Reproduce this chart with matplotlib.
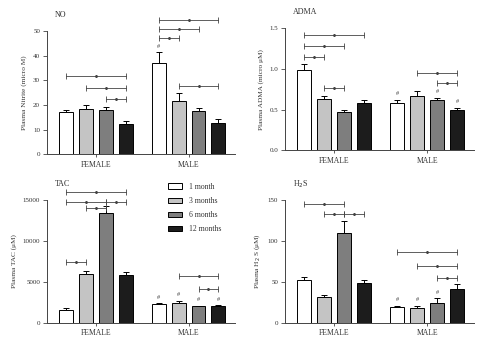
import matplotlib
matplotlib.use("Agg")
import matplotlib.pyplot as plt
import numpy as np

plt.rcParams['font.family'] = ['Liberation Serif', 'DejaVu Serif']

groups = ['FEMALE', 'MALE']
ages = ['1 month', '3 months', '6 months', '12 months']
colors = ['#ffffff', '#c4c4c4', '#7e7e7e', '#1c1c1c']

# values: female 4 bars then male 4 bars
no_mean = [17.0, 18.3, 17.8, 12.4, 37.0, 21.7, 17.4, 12.8]
no_err = [0.9, 1.8, 1.5, 1.3, 4.3, 3.0, 1.5, 1.6]
adma_mean = [0.99, 0.635, 0.465, 0.58, 0.575, 0.672, 0.612, 0.49]
adma_err = [0.07, 0.033, 0.028, 0.04, 0.04, 0.052, 0.033, 0.028]
tac_mean = [1600, 6000, 13370, 5810, 2270, 2440, 2030, 2030]
tac_err = [180, 330, 810, 370, 120, 240, 90, 110]
h2s_mean = [52.0, 31.0, 109.5, 48.3, 18.9, 18.0, 24.6, 41.4]
h2s_err = [3.5, 3.0, 14.5, 4.3, 1.6, 2.5, 5.2, 5.5]

# significance brackets: (bar from, bar to, height)
no_sig = [(0, 3, 31.8), (1, 3, 27.0), (2, 3, 22.4),
          (4, 7, 54.6), (4, 6, 51.0), (4, 5, 47.3), (5, 7, 27.9)]
adma_sig = [(0, 3, 1.42), (0, 2, 1.285), (0, 1, 1.15), (1, 2, 0.76),
            (5, 7, 0.95), (6, 7, 0.82)]
tac_sig = [(0, 3, 15980), (0, 2, 14720), (2, 3, 14720), (1, 2, 14030),
           (0, 1, 7440), (5, 7, 5690), (6, 7, 4150)]
h2s_sig = [(0, 2, 145.5), (1, 2, 133), (2, 3, 133),
           (4, 7, 86.5), (5, 7, 69.7), (6, 7, 55)]

no_hash = [4]
adma_hash = [4, 6, 7]
tac_hash = [4, 5, 6, 7]
h2s_hash = [4, 5, 6]

xpos = np.array([0, 1, 2, 3, 4.65, 5.65, 6.65, 7.65])
centers = [1.5, 6.15]

fig = plt.figure(figsize=(4.82, 3.43), dpi=100)

panels = [
    ('NO', 'Plasma Nitrite (micro M)', no_mean, no_err, no_sig, no_hash,
     [47/482, 0.550, 188/482, 0.3595], (0, 50), [0, 10, 20, 30, 40, 50]),
    ('ADMA', 'Plasma ADMA (micro μM)', adma_mean, adma_err, adma_sig, adma_hash,
     [285/482, 0.5618, 189/482, 0.3566], (0, 1.5), [0.0, 0.5, 1.0, 1.5]),
    ('TAC', 'Plasma TAC (μM)', tac_mean, tac_err, tac_sig, tac_hash,
     [47/482, 0.0583, 188/482, 0.3595], (0, 15000), [0, 5000, 10000, 15000]),
    ('H$_2$S', 'Plasma H$_2$ S (μM)', h2s_mean, h2s_err, h2s_sig, h2s_hash,
     [285/482, 0.059, 189/482, 0.3577], (0, 150), [0, 50, 100, 150]),
]

gray = '#444444'
bars_for_legend = None
for title, ylab, mean, err, sig, hashes, rect, ylim, yt in panels:
    ax = fig.add_axes(rect)
    bars = ax.bar(xpos, mean, width=0.7, color=colors * 2, edgecolor='black',
                  linewidth=0.7, zorder=2)
    if bars_for_legend is None:
        bars_for_legend = bars
    ax.errorbar(xpos, mean, yerr=[np.zeros(8), err], fmt='none', ecolor='black',
                elinewidth=0.7, capsize=2.5, capthick=0.7, zorder=1)
    span = ylim[1] - ylim[0]
    for a, b, h in sig:
        ax.plot([xpos[a], xpos[b]], [h, h], color=gray, lw=0.6, marker='|',
                markersize=4, markeredgewidth=0.6, clip_on=False)
        ax.plot((xpos[a] + xpos[b]) / 2, h, marker=(6, 2, 0), markersize=2,
                markeredgewidth=0.45, color=gray, clip_on=False)
    for i in hashes:
        ax.text(xpos[i], mean[i] + err[i] + span * 0.03, '#', ha='center',
                va='bottom', fontsize=4.5, color=gray)
    ax.set_xlim(-0.95, 8.48)
    ax.set_ylim(*ylim)
    ax.set_yticks(yt)
    if title == 'ADMA':
        ax.set_yticklabels(['0.0', '0.5', '1.0', '1.5'])
    ax.set_xticks(centers)
    ax.set_xticklabels(groups)
    for s in ['top', 'right']:
        ax.spines[s].set_visible(False)
    for s in ['left', 'bottom']:
        ax.spines[s].set_color(gray)
        ax.spines[s].set_linewidth(0.7)
    ax.tick_params(axis='y', labelsize=5, length=3, width=0.6, color=gray,
                   pad=2, labelcolor='#333333')
    ax.tick_params(axis='x', labelsize=5.5, length=2.5, width=0.6, color=gray,
                   pad=2, labelcolor='#333333')
    ax.set_ylabel(ylab, fontsize=5.2, color='#333333', labelpad=4)
    ax.text(0.04, 1.13, title, transform=ax.transAxes, fontsize=5.8,
            color='#333333', ha='left', va='center')

fig.legend(bars_for_legend[:4], ages, loc='upper left',
           bbox_to_anchor=(161/482, 1 - 176/343), frameon=False, fontsize=5.5,
           handlelength=1.8, handleheight=0.75, labelspacing=0.8,
           handletextpad=1.0, labelcolor='#333333')

fig.savefig('out.png', dpi=100)
